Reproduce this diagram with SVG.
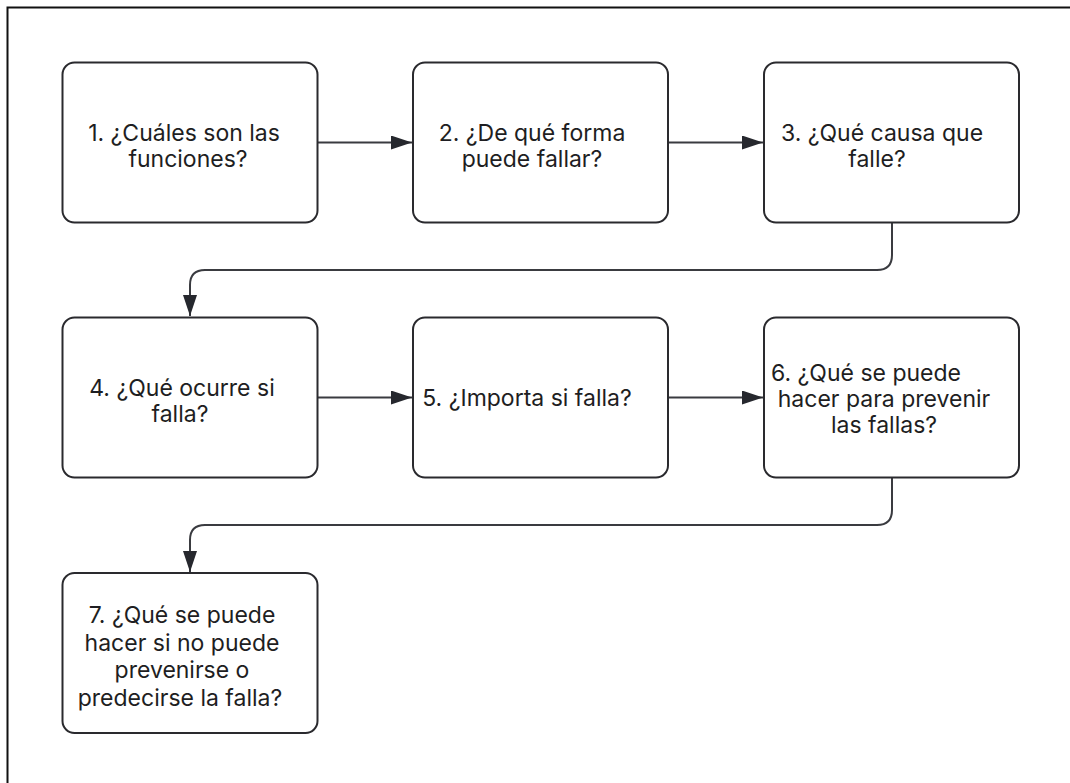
<svg xmlns="http://www.w3.org/2000/svg" width="1070" height="783" viewBox="0 0 1070 783">
  <style>
    .box { fill: #ffffff; stroke: #2a2a2e; stroke-width: 2; }
    .lbl { font-family: Inter, "Liberation Sans", sans-serif; font-size: 23px; fill: #1e1e22; text-anchor: middle; }
    .edge { fill: none; stroke: #3a3b40; stroke-width: 2; }
    .frame { fill: none; stroke: #111111; stroke-width: 2; }
  </style>
  <defs>
    <marker id="arrow" markerUnits="userSpaceOnUse" markerWidth="22" markerHeight="16" refX="21" refY="7" orient="auto">
      <path d="M0,0 L21,7 L0,14 Z" fill="#26282e"/>
    </marker>
  </defs>

  <rect width="1070" height="783" fill="#ffffff"/>
  <!-- outer frame, runs past the right and bottom edges -->
  <rect class="frame" x="7.5" y="7.5" width="1100" height="800"/>

  <g id="connectors">
    <path class="edge" d="M318 142.5 H412" marker-end="url(#arrow)"/>
    <path class="edge" d="M668 142.5 H763" marker-end="url(#arrow)"/>
    <path class="edge" d="M892 222 V255 Q892 270 877 270 H205 Q190 270 190 285 V316" marker-end="url(#arrow)"/>
    <path class="edge" d="M318 397.5 H412" marker-end="url(#arrow)"/>
    <path class="edge" d="M668 397.5 H763" marker-end="url(#arrow)"/>
    <path class="edge" d="M892 477 V510 Q892 525 877 525 H205 Q190 525 190 540 V572" marker-end="url(#arrow)"/>
  </g>

  <g id="node1">
    <rect class="box" x="62.5" y="62.5" width="255" height="160" rx="12"/>
    <text class="lbl" x="184" y="141">1. ¿Cuáles son las</text>
    <text class="lbl" x="188" y="167">funciones?</text>
  </g>
  <g id="node2">
    <rect class="box" x="413" y="62.5" width="255" height="160" rx="12"/>
    <text class="lbl" x="532" y="141">2. ¿De qué forma</text>
    <text class="lbl" x="532" y="167">puede fallar?</text>
  </g>
  <g id="node3">
    <rect class="box" x="764" y="62.5" width="255" height="160" rx="12"/>
    <text class="lbl" x="882" y="141">3. ¿Qué causa que</text>
    <text class="lbl" x="877" y="167">falle?</text>
  </g>
  <g id="node4">
    <rect class="box" x="62.5" y="317.5" width="255" height="160" rx="12"/>
    <text class="lbl" x="182" y="396">4. ¿Qué ocurre si</text>
    <text class="lbl" x="180" y="422">falla?</text>
  </g>
  <g id="node5">
    <rect class="box" x="413" y="317.5" width="255" height="160" rx="12"/>
    <text class="lbl" x="527" y="406">5. ¿Importa si falla?</text>
  </g>
  <g id="node6">
    <rect class="box" x="764" y="317.5" width="255" height="160" rx="12"/>
    <text class="lbl" x="866" y="381">6. ¿Qué se puede</text>
    <text class="lbl" x="884" y="407">hacer para prevenir</text>
    <text class="lbl" x="884" y="433">las fallas?</text>
  </g>
  <g id="node7">
    <rect class="box" x="62.5" y="573" width="255" height="160" rx="12"/>
    <text class="lbl" x="182" y="623">7. ¿Qué se puede</text>
    <text class="lbl" x="182" y="650.5">hacer si no puede</text>
    <text class="lbl" x="182" y="678">prevenirse o</text>
    <text class="lbl" x="180" y="705.5">predecirse la falla?</text>
  </g>
</svg>
